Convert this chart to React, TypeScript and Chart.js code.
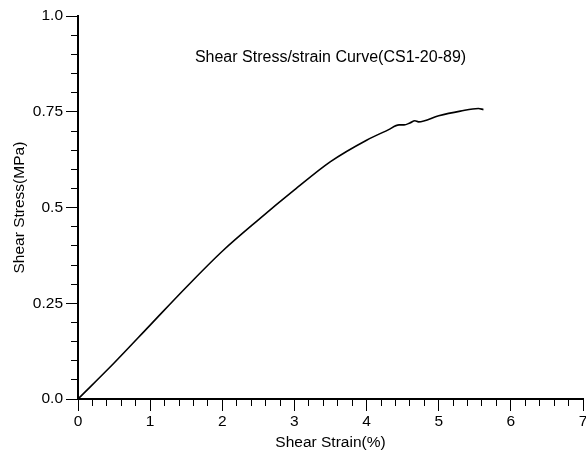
import React, { useEffect, useRef } from "react";
import { Chart, registerables } from "chart.js";

Chart.register(...registerables);

// Shear strain (%) and shear stress (MPa)
const strainX = [0, 0.5, 1.0, 1.5, 2.0, 2.5, 3.0, 3.5, 4.0, 4.3, 4.45, 4.52, 4.6, 4.67, 4.72, 5.0, 5.3, 5.55, 5.62];
const stressY = [0, 0.094, 0.193, 0.292, 0.386, 0.468, 0.546, 0.62, 0.676, 0.703, 0.716, 0.716, 0.721, 0.727, 0.724, 0.74, 0.752, 0.759, 0.756];

const xMajorTicks = [0, 1, 2, 3, 4, 5, 6, 7];
const yTickLabels = ["0.0", "0.25", "0.5", "0.75", "1.0"];

const titleText = "Shear Stress/strain Curve(CS1-20-89)";
const xTitle = "Shear Strain(%)";
const yTitle = "Shear Stress(MPa)";

const FONT = "'Liberation Sans', Arial, Helvetica, sans-serif";

export default function App() {
  const ref = useRef<HTMLCanvasElement | null>(null);

  useEffect(() => {
    if (!ref.current) return;
    const points = strainX.map((x, i) => ({ x, y: stressY[i] }));
    const font = { family: FONT, size: 15.5 };
    const chart = new Chart(ref.current, {
      type: "line",
      data: {
        datasets: [
          {
            data: points,
            borderColor: "#000",
            borderWidth: 1.6,
            pointRadius: 0,
            cubicInterpolationMode: "monotone",
            fill: false,
          },
        ],
      },
      options: {
        animation: false,
        responsive: false,
        layout: { padding: { left: 0, top: 16, right: 3, bottom: 0 } },
        plugins: {
          legend: { display: false },
          tooltip: { enabled: false },
          title: {
            display: true,
            text: titleText,
            fullSize: false,
            color: "#000",
            font: { family: FONT, size: 16, weight: "normal" },
            padding: { top: 32, bottom: -51 },
          },
        },
        scales: {
          x: {
            type: "linear",
            position: "bottom",
            weight: 1,
            min: 0,
            max: 7,
            afterBuildTicks: (s: any) => {
              s.ticks = xMajorTicks.map((v) => ({ value: v }));
            },
            afterFit: (s: any) => {
              s.height = 60;
              s.paddingLeft = 0;
              s.paddingRight = 0;
            },
            ticks: { color: "#000", font, padding: 1, autoSkip: false, maxRotation: 0 },
            grid: { drawOnChartArea: false, drawTicks: true, tickLength: 12, color: "#000", lineWidth: 1 },
            border: { display: true, color: "#000", width: 2 },
            title: { display: true, text: xTitle, color: "#000", font, padding: { top: 0, bottom: 7 } },
          },
          xMinor: {
            type: "linear",
            position: "bottom",
            weight: 0,
            min: 0,
            max: 7,
            ticks: { display: false, stepSize: 0.2, maxTicksLimit: 100 },
            afterFit: (s: any) => {
              s.height = 0;
              s.paddingLeft = 0;
              s.paddingRight = 0;
            },
            grid: { drawOnChartArea: false, drawTicks: true, tickLength: 7, color: "#000", lineWidth: 1 },
            border: { display: false },
          },
          y: {
            type: "linear",
            position: "left",
            weight: 1,
            min: 0,
            max: 1,
            afterBuildTicks: (s: any) => {
              s.ticks = yTickLabels.map((_, i) => ({ value: i * 0.25 }));
            },
            afterFit: (s: any) => {
              s.width = 78;
              s.paddingTop = 0;
              s.paddingBottom = 0;
            },
            ticks: {
              color: "#000",
              font,
              padding: 3,
              autoSkip: false,
              callback: (_v: any, i: number) => yTickLabels[i],
            },
            grid: { drawOnChartArea: false, drawTicks: true, tickLength: 12, color: "#000", lineWidth: 1 },
            border: { display: true, color: "#000", width: 2 },
            title: { display: true, text: yTitle, color: "#000", font, padding: { top: 10, bottom: 0 } },
          },
          yMinor: {
            type: "linear",
            position: "left",
            weight: 0,
            min: 0,
            max: 1,
            ticks: { display: false, stepSize: 0.05, maxTicksLimit: 100 },
            afterFit: (s: any) => {
              s.width = 0;
              s.paddingTop = 0;
              s.paddingBottom = 0;
            },
            grid: { drawOnChartArea: false, drawTicks: true, tickLength: 7, color: "#000", lineWidth: 1 },
            border: { display: false },
          },
        },
      },
    });
    return () => chart.destroy();
  }, []);

  return (
    <div style={{ position: "fixed", left: 0, top: 0, width: 586, height: 459, background: "#fff", overflow: "hidden" }}>
      <canvas ref={ref} width={586} height={459} style={{ display: "block" }} />
    </div>
  );
}
